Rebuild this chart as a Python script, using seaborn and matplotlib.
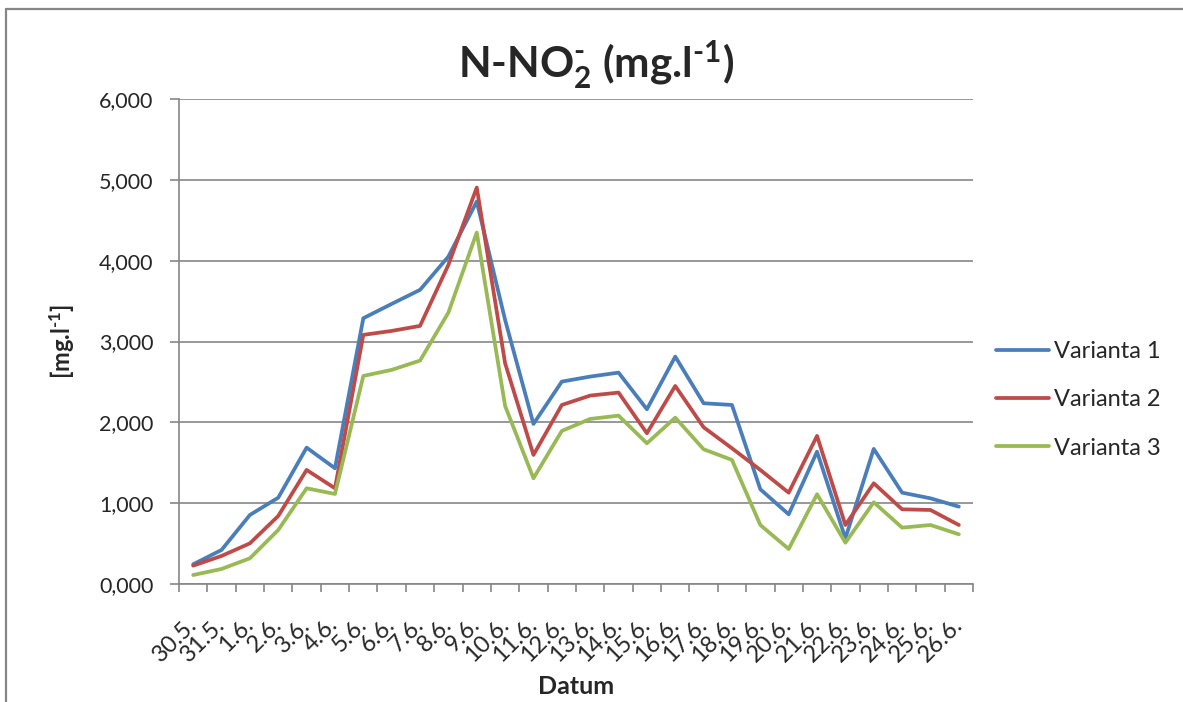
import numpy as np
import pandas as pd
import matplotlib
matplotlib.use("Agg")
import matplotlib.pyplot as plt
import seaborn as sns
from matplotlib.lines import Line2D
from matplotlib.ticker import FuncFormatter

dates = ["30.5.", "31.5.", "1.6.", "2.6.", "3.6.", "4.6.", "5.6.", "6.6.", "7.6.", "8.6.",
         "9.6.", "10.6.", "11.6.", "12.6.", "13.6.", "14.6.", "15.6.", "16.6.", "17.6.", "18.6.",
         "19.6.", "20.6.", "21.6.", "22.6.", "23.6.", "24.6.", "25.6.", "26.6."]
varianta1 = [0.244, 0.421, 0.854, 1.068, 1.687, 1.432, 3.288, 3.465, 3.639, 4.051,
             4.732, 3.267, 1.980, 2.504, 2.566, 2.615, 2.162, 2.813, 2.236, 2.215,
             1.172, 0.862, 1.637, 0.565, 1.671, 1.130, 1.060, 0.957]
varianta2 = [0.227, 0.347, 0.503, 0.842, 1.411, 1.184, 3.082, 3.131, 3.193, 3.948,
             4.905, 2.731, 1.597, 2.215, 2.331, 2.368, 1.865, 2.450, 1.939, 1.679,
             1.411, 1.130, 1.832, 0.730, 1.246, 0.924, 0.916, 0.730]
varianta3 = [0.111, 0.186, 0.318, 0.668, 1.184, 1.114, 2.574, 2.649, 2.764, 3.358,
             4.348, 2.203, 1.308, 1.894, 2.042, 2.083, 1.741, 2.058, 1.667, 1.535,
             0.730, 0.433, 1.110, 0.511, 1.011, 0.697, 0.730, 0.615]
series_names = ["Varianta 1", "Varianta 2", "Varianta 3"]
colors = ["#4A7EBB", "#BE4B48", "#98B954"]

df = pd.DataFrame({"Datum": dates, series_names[0]: varianta1,
                   series_names[1]: varianta2, series_names[2]: varianta3})
long = df.melt(id_vars="Datum", var_name="Serie", value_name="Hodnota")
long["pos"] = long["Datum"].map({d: i for i, d in enumerate(dates)})

sns.set_theme(style="white")
plt.rcParams["font.family"] = ["Lato", "DejaVu Sans"]
plt.rcParams["mathtext.fontset"] = "custom"
plt.rcParams["mathtext.rm"] = "Lato:bold"
plt.rcParams["mathtext.it"] = "Lato:bold"
plt.rcParams["mathtext.bf"] = "Lato:bold"

fig = plt.figure(figsize=(11.83, 7.02), dpi=100)
W, H = 1183, 702
ax = fig.add_axes([179 / W, (H - 584) / H, (973 - 179) / W, (584 - 99) / H])

sns.lineplot(data=long, x="pos", y="Hodnota", hue="Serie", palette=colors,
             hue_order=series_names, linewidth=2.7, ax=ax, legend=True, sort=False)

ax.set_xlim(-0.5, len(dates) - 0.5)
ax.set_ylim(0, 6)
ax.set_yticks(np.arange(0, 7, 1))
ax.yaxis.set_major_formatter(FuncFormatter(lambda v, p: f"{v:.3f}".replace(".", ",")))
ax.set_xticks(np.arange(len(dates)))
ax.set_xticklabels(dates, rotation=45, ha="right", va="center", rotation_mode="anchor")
ax.set_xticks(np.arange(len(dates) + 1) - 0.5, minor=True)

gray = "#868686"
ax.grid(axis="y", color=gray, linewidth=1.2)
ax.set_axisbelow(True)
for s in ["top", "right"]:
    ax.spines[s].set_visible(False)
for s in ["left", "bottom"]:
    ax.spines[s].set_color(gray)
    ax.spines[s].set_linewidth(1.2)
ax.tick_params(axis="y", which="major", direction="out", length=6.5, width=1.2,
               color=gray, labelsize=15.5, pad=12, left=True)
ax.tick_params(axis="x", which="major", length=0, labelsize=17, pad=27)
ax.tick_params(axis="x", which="minor", direction="out", length=6, width=1.2,
               color=gray, bottom=True)

ax.set_xlabel("Datum", fontsize=18, fontweight="bold", va="center")
ax.xaxis.set_label_coords(0.5, -(686 - 584) / 485)
ax.set_ylabel("[mg.l$^{\\text{-1}}$]", fontsize=17, fontweight="bold", va="center")
ax.yaxis.set_label_coords((62 - 179) / 794, 0.5)

fig.text(0.5035, 1 - 65 / H, "N-NO$_{\\text{2}}^{\\text{-}}$ (mg.l$^{\\text{-1}}$)",
         ha="center", va="center", fontsize=30.5, fontweight="bold")

handles, labels = ax.get_legend_handles_labels()
ax.legend(handles, labels, loc="center left", bbox_to_anchor=(984 / W, 1 - 400 / H),
          bbox_transform=fig.transFigure, frameon=False, fontsize=17,
          handlelength=2.25, handletextpad=0.2, labelspacing=1.15, borderpad=0)

fig.add_artist(Line2D([6 / W, 6 / W], [0, 1 - 9 / H], transform=fig.transFigure,
                      color=gray, linewidth=1.6))
fig.add_artist(Line2D([6 / W, 1.0], [1 - 9 / H, 1 - 9 / H], transform=fig.transFigure,
                      color=gray, linewidth=1.6))

fig.savefig("out.png", dpi=100)
